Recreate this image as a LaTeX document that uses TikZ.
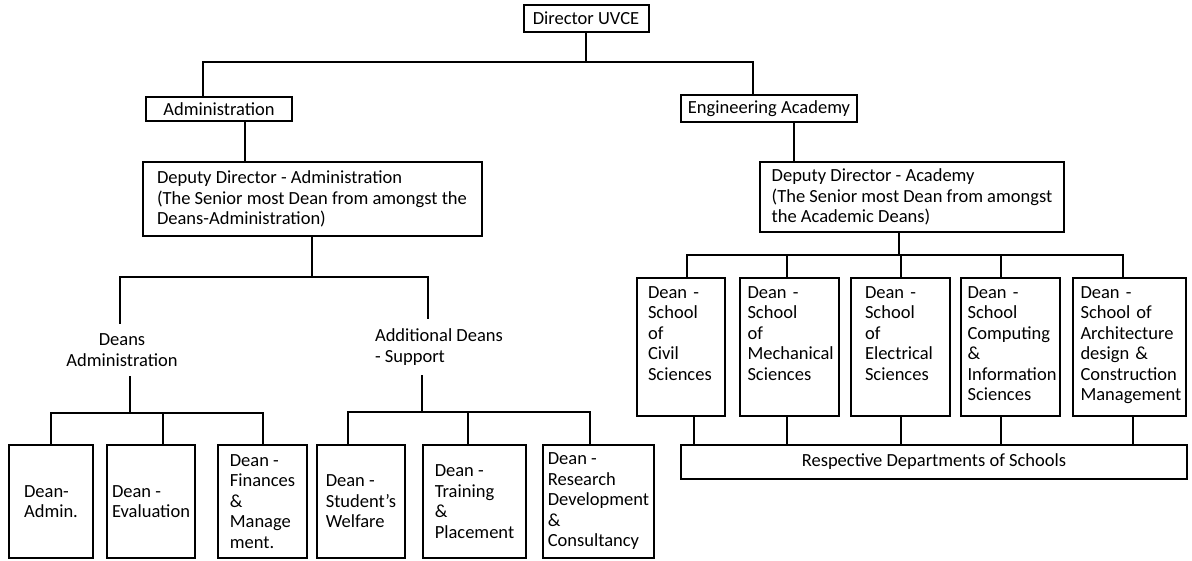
\documentclass[tikz,border=0pt]{standalone}
\usepackage{fontspec}
\setmainfont{Carlito}
\usepackage{tikz}
\tikzstyle{headbox} = [rectangle, draw, line width=2pt, inner sep=0pt, align=center]
\tikzstyle{deputy} = [rectangle, draw, line width=2pt, inner sep=0pt, align=left]
\tikzstyle{deanbox} = [rectangle, draw, line width=2pt, inner sep=0pt, align=left, anchor=north west, minimum height=113pt]
\tikzstyle{school} = [rectangle, draw, line width=2pt, inner xsep=0pt, inner ysep=6pt, align=left, anchor=north west, text height=14pt, text depth=112pt]
\tikzstyle{grouptext} = [align=center, inner sep=0pt, inner ysep=10pt]
\tikzstyle{link} = [line width=2pt]

\begin{document}
\begin{tikzpicture}[x=1pt, y=-1pt, every node/.style={font=\fontsize{18.5}{20.5}\selectfont}]
\useasboundingbox (0,0) rectangle (1192,560);

% top of the chart
\node[headbox, minimum width=125pt, minimum height=27pt] (director) at (586,18.5) {Director UVCE};
\node[headbox, minimum width=146pt, minimum height=24pt] (admin) at (219,109) {Administration};
\node[headbox, minimum width=176pt, minimum height=27pt] (academy) at (769,108.5) {Engineering Academy};

% deputy directors
\node[deputy, minimum width=339pt, minimum height=74pt] (depadmin) at (312,199) {Deputy Director - Administration\\(The Senior most Dean from amongst the\\Deans-Administration)};
\node[deputy, minimum width=304pt, minimum height=70pt] (depacad) at (912,197) {Deputy Director - Academy\\(The Senior most Dean from amongst\\the Academic Deans)};

% administration side
\node[grouptext] (deansadmin) at (122,350) {Deans\\Administration};
\node[grouptext, align=left] (adddeans) at (439,347) {Additional Deans\\- Support};

\node[deanbox, minimum width=84pt] (deanadmin) at (8,444) {Dean-\\Admin.};
\node[deanbox, minimum width=88pt] (deaneval) at (106,444) {Dean -\\Evaluation};
\node[deanbox, minimum width=89pt] (deanfin) at (217,444) {Dean -\\Finances\\\&\\Manage\\ment.};
\node[deanbox, minimum width=88pt] (deanwelf) at (316,444) {Dean -\\Student’s\\Welfare};
\node[deanbox, minimum width=103pt] (deantrain) at (422,444) {Dean -\\Training\\\&\\Placement};
\node[deanbox, minimum width=111pt] (deanres) at (542,444) {Dean -\\Research\\Development\\\&\\Consultancy};

% academy side
\node[school, minimum width=88pt, text width=66pt] (civil) at (636,277) {Dean -\\School\\of\\Civil\\Sciences};
\node[school, minimum width=99pt, text width=84pt] (mech) at (739,277) {Dean -\\School\\of\\Mechanical\\Sciences};
\node[school, minimum width=99pt, text width=71pt] (elec) at (850,277) {Dean -\\School\\of\\Electrical\\Sciences};
\node[school, minimum width=99pt, text width=86pt] (comp) at (960,277) {Dean -\\School\\Computing\\\&\\Information\\Sciences};
\node[school, minimum width=113pt, text width=98pt] (arch) at (1072,277) {Dean -\\School of\\Architecture\\design \&\\Construction\\Management};
\node[headbox, minimum width=506pt, minimum height=34pt] (depts) at (934,462) {Respective Departments of Schools};

% joints of the tree
\coordinate (topjoin) at (586,62);
\coordinate (admjoin) at (312,277);
\coordinate (dajoin) at (130,413);
\coordinate (supjoin) at (422,412);
\coordinate (acadjoin) at (899,255);

% first levels
\draw[link] (director) -- (topjoin);
\draw[link] ([xshift=-16pt]admin.north) |- (topjoin) -| ([xshift=-16pt]academy.north);
\draw[link] ([xshift=26pt]admin.south) -- ([xshift=26pt]admin.south |- depadmin.north);
\draw[link] ([xshift=25pt]academy.south) -- ([xshift=25pt]academy.south |- depacad.north);

% administration deans
\draw[link] (depadmin.south) -- (admjoin);
\draw[link] ([xshift=-2pt]deansadmin.north) |- (admjoin) -| ([xshift=-11pt]adddeans.north);
\draw[link] ([xshift=8pt]deansadmin.south) -- (dajoin);
\draw[link] (deanadmin.north) |- (dajoin) -| (deanfin.north);
\draw[link] ([xshift=12pt]deaneval.north) -- ([xshift=12pt]deaneval.north |- dajoin);
\draw[link] ([xshift=-17pt]adddeans.south) -- (supjoin);
\draw[link] ([xshift=-13pt]deanwelf.north) |- (supjoin) -| ([xshift=-9pt]deanres.north);
\draw[link] ([xshift=-7pt]deantrain.north) -- ([xshift=-7pt]deantrain.north |- supjoin);

% academy deans
\draw[link] (depacad.south -| acadjoin) -- (acadjoin);
\draw[link] ([xshift=6pt]civil.north) |- (acadjoin) -| ([xshift=-7pt]arch.north);
\draw[link] ([xshift=-3pt]mech.north) -- ([xshift=-3pt]mech.north |- acadjoin);
\draw[link] (elec.north) -- (elec.north |- acadjoin);
\draw[link] ([xshift=-10pt]comp.north) -- ([xshift=-10pt]comp.north |- acadjoin);

% down to the departments
\draw[link] ([xshift=13pt]civil.south) -- ([xshift=13pt]civil.south |- depts.north);
\draw[link] ([xshift=-3pt]mech.south) -- ([xshift=-3pt]mech.south |- depts.north);
\draw[link] (elec.south) -- (elec.south |- depts.north);
\draw[link] ([xshift=-10pt]comp.south) -- ([xshift=-10pt]comp.south |- depts.north);
\draw[link] ([xshift=3pt]arch.south) -- ([xshift=3pt]arch.south |- depts.north);

\end{tikzpicture}
\end{document}
